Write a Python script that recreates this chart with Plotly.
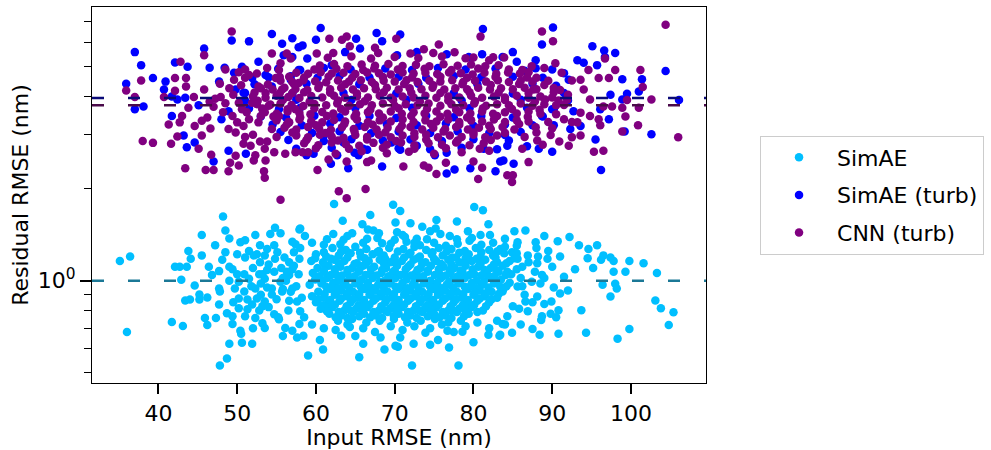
import plotly.graph_objects as go

# ---------------- data ----------------
series_names = ["SimAE", "SimAE (turb)", "CNN (turb)"]
series_colors = ["#00bfff", "#0000ff", "#800080"]
median_values = [1.0, 3.95, 3.74]
median_colors = ["#1b7896", "#0a0a78", "#4a0a4a"]
x_tick_vals = [40, 50, 60, 70, 80, 90, 100]
y_tick_vals = [1]
y_tick_text = ["10<sup>0</sup>"]
y_minor_vals = [0.5, 0.6, 0.7, 0.8, 0.9, 2, 3, 4, 5, 6, 7]

# SimAE: sparse points on the left
simae_left = [(35.1,1.16),(36.4,1.20),(36.0,0.68),(41.7,0.733),(43.1,0.711),(48.2,1.62),(45.5,1.41),
 (48.5,1.46),(49.0,1.375),(47.2,1.305),(43.8,1.25),(44.1,1.18),(42.1,1.11),(42.7,1.11),(43.6,1.11),
 (42.9,1.007),(43.4,0.862),(44.0,0.869),(45.2,0.902),(45.2,0.869),(46.2,0.882),(44.6,0.964),(45.5,1.21),
 (45.9,0.755),(46.2,0.717),(47.3,0.755),(49.0,0.623),(50.6,0.627),(51.9,0.623),(47.8,0.529),(48.7,0.557),
 (50.4,0.686),(50.5,0.671),(49.4,0.722),(48.7,0.783),(47.7,0.837),(47.8,0.922),(47.7,0.943),(46.8,1.045),
 (46.4,1.11),(47.7,1.075),(48.1,1.17),(49.0,1.11),(49.4,1.09),(48.5,1.24),(50.0,1.22),(50.4,1.335),
 (51.0,1.355),(51.0,1.19),(52.3,1.41),(52.1,1.21),(52.9,1.305),(52.9,1.15),(53.8,1.27),(53.5,1.21),
 (54.8,1.49),(54.2,1.42),(55.5,1.43),(54.7,1.305),(55.1,1.24),(50.9,1.05),(51.5,1.015),(50.2,0.993),
 (49.7,0.943),(50.9,0.922),(52.3,0.943),(52.5,0.875),(51.3,0.869),(50.2,0.875),(51.3,0.807),(50.2,0.813),
 (51.9,0.837),(53.2,0.825),(49.4,0.766),(51.0,0.766),(52.3,0.755),(53.2,0.727),(53.5,0.701),(54.7,0.777),
 (55.3,0.749),(56.1,0.701),(57.0,0.686),(57.6,0.652),(53.5,0.856),(54.4,0.902),(54.4,0.943),(55.7,0.922),
 (53.5,1.015),(54.7,1.07),(55.5,0.993),(56.6,1.045),(57.0,1.09),(56.6,1.15),(57.2,1.24),(57.9,1.47),
 (57.4,1.315),(57.9,1.18),(56.3,1.07),(57.0,0.943),(57.6,0.856),(58.0,0.795),(57.9,0.722),(53.2,1.05),
 (52.8,1.05),(53.8,1.085),
 (52.0,1.10),(53.0,0.98),(54.0,1.13),(55.0,0.87),(55.8,1.02),(56.5,0.80),(57.5,0.96),(58.0,1.28),(56.0,1.19),
 (57.8,1.05),(58.2,0.88),(55.2,0.76),(56.8,0.92),(54.0,0.82),(52.5,1.22),(57.0,1.34),(58.5,0.76),(53.0,0.90),
 (49.0,1.00),(50.0,1.05),(51.8,0.96),(52.8,0.80),(53.8,0.95),(54.8,1.18),(55.6,1.10),(56.6,0.86),(51.5,1.25),
 (49.5,0.85),(52.0,0.70),(55.8,0.66)]
# SimAE: edges of the central cloud
simae_mid_edges = [(62.3,1.78),(63.4,1.57),(66.9,1.64),(65.9,1.53),(69.8,1.77),(70.7,1.69),(70.1,1.55),
 (72.0,1.54),(73.5,1.50),(75.3,1.58),(77.9,1.56),(80.1,1.74),(81.2,1.70),(81.9,1.53),(75.2,1.48),
 (59.0,0.570),(60.9,0.596),(65.5,0.562),(72.2,0.529),(78.1,0.529),(68.7,0.596),(70.1,0.613),(70.4,0.609),
 (72.4,0.623),(74.5,0.618),(76.9,0.605),(66.0,0.623),(63.2,0.661),(64.3,0.706),(58.4,0.661),(81.9,0.666),
 (83.3,0.661),(83.7,0.722),(78.6,0.681),(76.7,0.686),(73.9,0.676),(68.2,0.652),(70.7,0.652),(58.6,1.40),
 (58.0,1.48),(61.4,1.365),(62.2,1.42),(63.1,1.315),(64.6,1.43),(66.6,1.47),(67.3,1.46),(68.4,1.325),
 (70.3,1.44),(71.3,1.39),(73.2,1.305),(74.1,1.365),(75.8,1.42),(77.9,1.365),(79.3,1.45),(80.9,1.41),
 (82.1,1.41),(83.4,1.27),
 (59.5,1.33),(61.0,1.31),(63.5,1.36),(66.0,1.33),(67.8,1.38),(69.5,1.32),(71.5,1.34),(72.8,1.37),
 (75.0,1.33),(76.5,1.30),(78.0,1.32),(79.5,1.35),(81.0,1.31),(82.5,1.33),(84.0,1.37),(85.5,1.30),
 (64.0,1.40),(68.0,1.43),(71.0,1.41),(74.5,1.45),(77.0,1.40),(79.8,1.38),(66.5,1.37),(72.5,1.33),(70.0,1.36),
 (59.5,0.72),(61.0,0.70),(62.5,0.69),(64.0,0.72),(66.0,0.70),(67.5,0.68),(69.5,0.71),(71.0,0.69),
 (72.5,0.71),(74.5,0.70),(76.0,0.72),(77.5,0.68),(79.0,0.71),(80.5,0.73),(82.0,0.70),(83.0,0.74),
 (60.5,0.64),(65.0,0.66),(75.5,0.64),(80.0,0.63)]
# SimAE: right side
simae_right = [(86.6,1.46),(89.0,1.40),(90.7,1.345),(92.2,1.39),(93.4,1.305),(95.7,1.305),(94.6,1.27),
 (94.5,1.185),(96.5,1.21),(97.4,1.19),(97.8,1.16),(96.2,1.17),(99.8,1.16),(101.6,1.14),(103.3,1.06),
 (99.3,1.07),(97.8,1.07),(95.2,1.10),(92.9,1.09),(96.4,0.971),(98.0,0.978),(98.2,0.943),(97.4,0.888),
 (92.0,0.929),(91.0,0.908),(93.7,0.801),(89.9,0.856),(90.8,0.801),(90.5,0.760),(88.6,0.744),(103.1,0.862),
 (103.8,0.813),(105.4,0.789),(104.8,0.717),(99.8,0.696),(98.3,0.647),(94.3,0.676),(90.8,0.671),(88.4,0.666),
 (87.5,0.696),(84.9,0.676),(83.4,0.666),
 (84.0,1.29),(84.9,1.24),(85.6,1.18),(86.9,1.21),(88.1,1.14),(86.2,1.11),(84.3,1.07),(88.7,1.045),
 (87.4,0.993),(85.6,0.957),(83.7,0.922),(88.1,0.888),(86.6,0.856),(85.0,0.825),(86.9,0.795),(84.3,0.766),
 (88.7,0.766),(89.4,1.18),(90.0,1.11),(87.9,1.335),(85.6,1.335),
 (85.5,1.23),(86.0,1.02),(86.5,0.90),(87.0,1.15),(87.8,1.07),(85.8,0.81),(88.5,0.98),(89.0,0.84),(86.2,0.96),
 (87.5,0.85),(89.5,1.25),(88.0,1.28),(85.2,1.45),(84.0,0.72),(86.0,0.72),
 (89.0,1.02),(90.2,0.95),(91.0,1.20),(89.8,0.78),(91.5,1.03),(88.2,1.20)]
# SimAE: dense core
simae_core = [(62.1,1.28),(63.8,1.26),(65.0,1.29),(66.4,1.27),(68.0,1.25),(69.3,1.28),(71.1,1.27),(72.5,1.29),
 (74.0,1.26),(75.6,1.28),(77.2,1.27),(78.9,1.25),(80.3,1.28),(82.0,1.26),
 (60.0,1.22),(61.3,1.20),(62.9,1.21),(64.4,1.23),(65.7,1.20),(67.2,1.22),(68.6,1.21),(70.0,1.19),(71.8,1.22),
 (73.2,1.20),(74.7,1.22),(76.1,1.21),(77.8,1.19),(79.4,1.22),(80.9,1.20),(82.5,1.21),(83.9,1.23),
 (59.4,1.16),(60.9,1.15),(62.3,1.17),(63.6,1.16),(65.2,1.14),(66.7,1.16),(68.1,1.17),(69.5,1.15),(70.9,1.16),
 (72.4,1.17),(73.9,1.15),(75.3,1.16),(76.8,1.17),(78.2,1.15),(79.8,1.16),(81.5,1.17),(83.0,1.15),(84.6,1.16),
 (57.2,1.12),(60.2,1.10),(61.6,1.12),(63.1,1.11),(64.6,1.10),(66.0,1.12),(67.4,1.11),(68.9,1.10),(70.3,1.12),
 (71.7,1.11),(73.3,1.10),(74.6,1.12),(76.2,1.11),(77.6,1.10),(79.0,1.12),(80.6,1.11),(82.2,1.10),(83.7,1.12),
 (59.6,1.06),(61.0,1.07),(62.5,1.05),(64.0,1.06),(65.4,1.07),(66.9,1.05),(68.3,1.06),(69.8,1.07),(71.2,1.05),
 (72.7,1.06),(74.2,1.07),(75.7,1.05),(77.1,1.06),(78.6,1.07),(80.1,1.05),(81.7,1.06),(83.2,1.07),(84.8,1.05),
 (56.2,1.00),(59.9,1.01),(61.4,1.02),(62.8,1.00),(64.3,1.02),(65.8,1.01),(67.2,1.02),(68.7,1.00),(70.1,1.02),
 (71.5,1.01),(73.0,1.02),(74.5,1.00),(75.9,1.02),(77.4,1.01),(78.9,1.02),(80.4,1.00),(81.9,1.02),(83.5,1.01),
 (59.2,0.97),(60.7,0.98),(62.1,0.96),(63.5,0.97),(65.0,0.98),(66.5,0.96),(67.9,0.97),(69.4,0.98),(70.8,0.96),
 (72.3,0.97),(73.7,0.98),(75.2,0.96),(76.6,0.97),(78.1,0.98),(79.6,0.96),(81.1,0.97),(82.6,0.98),(84.2,0.96),
 (55.8,0.94),(60.3,0.92),(61.8,0.94),(63.2,0.93),(64.7,0.92),(66.2,0.94),(67.6,0.93),(69.1,0.92),(70.5,0.94),
 (72.0,0.93),(73.5,0.92),(74.9,0.94),(76.4,0.93),(77.9,0.92),(79.3,0.94),(80.8,0.93),(82.3,0.92),(83.8,0.94),
 (59.5,0.89),(61.0,0.88),(62.4,0.90),(63.9,0.89),(65.3,0.88),(66.8,0.90),(68.2,0.89),(69.7,0.88),(71.2,0.90),
 (72.6,0.89),(74.1,0.88),(75.5,0.90),(77.0,0.89),(78.5,0.88),(80.0,0.90),(81.4,0.89),(83.0,0.88),
 (60.0,0.85),(61.5,0.84),(63.0,0.86),(64.4,0.85),(65.9,0.84),(67.3,0.86),(68.8,0.85),(70.2,0.84),(71.7,0.86),
 (73.2,0.85),(74.6,0.84),(76.1,0.86),(77.5,0.85),(79.0,0.84),(80.5,0.86),(82.0,0.85),
 (60.6,0.81),(62.1,0.82),(63.6,0.80),(65.1,0.81),(66.5,0.82),(68.0,0.80),(69.4,0.81),(70.9,0.82),(72.4,0.80),
 (73.8,0.81),(75.3,0.82),(76.8,0.80),(78.2,0.81),(79.7,0.82),(81.2,0.80),
 (61.7,0.78),(63.2,0.77),(64.7,0.79),(66.1,0.78),(67.6,0.77),(69.1,0.79),(70.5,0.78),(72.0,0.77),(73.5,0.79),
 (75.0,0.78),(76.4,0.77),(77.9,0.79),(79.4,0.78),
 (62.8,0.74),(64.6,0.75),(66.4,0.73),(68.1,0.74),(69.9,0.75),(71.6,0.73),(73.3,0.74),(75.1,0.75),(76.8,0.73),
 (78.4,0.74)]
simae_core_fill = [(61.0,1.24),(63.2,1.245),(65.6,1.235),(67.8,1.24),(70.4,1.245),(72.0,1.235),(74.8,1.24),
 (76.6,1.245),(78.2,1.235),(81.0,1.24),(83.0,1.245),
 (59.9,1.185),(61.9,1.18),(64.0,1.19),(66.2,1.185),(68.8,1.18),(71.2,1.19),(72.9,1.185),(75.0,1.18),(77.3,1.19),
 (79.0,1.185),(80.4,1.18),(82.8,1.19),(85.2,1.185),
 (61.1,1.13),(62.9,1.14),(64.9,1.135),(66.3,1.13),(68.6,1.14),(70.2,1.135),(72.0,1.13),(73.5,1.14),
 (75.9,1.135),(77.2,1.13),(78.9,1.14),(80.9,1.135),(82.6,1.13),(84.2,1.14),
 (61.0,1.08),(62.4,1.09),(64.0,1.085),(65.5,1.08),(67.0,1.09),(68.4,1.085),(70.0,1.08),(71.4,1.09),
 (72.9,1.085),(74.2,1.08),(75.6,1.09),(77.0,1.085),(78.4,1.08),(79.9,1.09),(81.4,1.085),(83.0,1.08),(85.5,1.09),
 (60.4,1.035),(61.9,1.045),(63.3,1.04),(64.9,1.035),(66.3,1.045),(67.7,1.04),(69.2,1.035),(70.7,1.045),
 (72.1,1.04),(73.6,1.035),(75.1,1.045),(76.5,1.04),(78.0,1.035),(79.5,1.045),(81.0,1.04),(82.6,1.035),(84.1,1.045),
 (60.8,0.995),(62.2,0.985),(63.7,0.99),(65.1,0.995),(66.6,0.985),(68.1,0.99),(69.5,0.995),(71.0,0.985),
 (72.5,0.99),(73.9,0.995),(75.4,0.985),(76.9,0.99),(78.3,0.995),(79.8,0.985),(81.3,0.99),(82.8,0.995),(84.6,0.985),
 (61.3,0.955),(62.8,0.945),(64.2,0.95),(65.7,0.955),(67.2,0.945),(68.6,0.95),(70.1,0.955),(71.6,0.945),
 (73.0,0.95),(74.5,0.955),(76.0,0.945),(77.4,0.95),(78.9,0.955),(80.4,0.945),(81.9,0.95),(83.4,0.955),
 (61.1,0.905),(62.6,0.915),(64.0,0.91),(65.5,0.905),(67.0,0.915),(68.4,0.91),(69.9,0.905),(71.4,0.915),
 (72.8,0.91),(74.3,0.905),(75.8,0.915),(77.2,0.91),(78.7,0.905),(80.2,0.915),(81.6,0.91),(83.2,0.905),
 (60.3,0.87),(61.8,0.865),(63.2,0.875),(64.7,0.87),(66.1,0.865),(67.6,0.875),(69.0,0.87),(70.5,0.865),(72.0,0.875),
 (73.4,0.87),(74.9,0.865),(76.4,0.875),(77.8,0.87),(79.3,0.865),(80.8,0.875),(82.3,0.87),
 (60.9,0.83),(62.4,0.835),(63.9,0.825),(65.4,0.83),(66.8,0.835),(68.3,0.825),(69.8,0.83),(71.2,0.835),(72.7,0.825),
 (74.1,0.83),(75.6,0.835),(77.1,0.825),(78.6,0.83),(80.1,0.835),(81.6,0.825),
 (61.4,0.795),(62.9,0.79),(64.4,0.80),(65.9,0.795),(67.3,0.79),(68.8,0.80),(70.2,0.795),(71.7,0.79),(73.1,0.80),
 (74.6,0.795),(76.1,0.79),(77.5,0.80),(79.0,0.795),(80.5,0.79),
 (62.5,0.76),(64.0,0.755),(65.5,0.765),(66.9,0.76),(68.4,0.755),(69.9,0.765),(71.3,0.76),(72.8,0.755),(74.2,0.765),
 (75.7,0.76),(77.2,0.755),(78.8,0.765)]

# SimAE (turb)
simae_turb_outer = [(37.0,5.58),(37.8,5.06),(39.3,4.59),(35.9,4.40),(37.0,3.63),(38.1,3.71),(40.9,4.47),
 (40.7,4.21),(42.1,5.16),(43.7,5.00),(45.8,5.73),(46.5,4.96),(47.7,4.47),(48.4,4.96),(49.3,6.09),(51.5,6.05),
 (54.4,6.40),(55.7,5.94),(57.0,6.19),(52.7,5.19),(49.6,4.78),(50.6,5.00),(41.7,3.45),(43.2,2.98),(43.6,2.73),
 (44.6,2.83),(47.0,2.45),(48.0,3.37),(45.1,3.74),(43.4,3.96),(42.4,3.91),(41.7,4.00),(48.9,2.66),(51.1,2.60),
 (48.9,3.58),(49.8,4.21),(51.0,4.10),(51.9,4.59),(53.6,4.70),(54.4,4.31),(57.0,5.38),(56.8,4.53),(57.8,4.88),
 (55.3,3.63),(57.8,5.79),(55.9,5.45),
 (60.6,6.69),(58.3,5.87),(60.0,6.12),(65.1,6.17),(67.7,6.44),(68.4,6.06),(70.7,6.37),(70.3,5.45),(65.6,5.73),
 (63.7,5.58),(72.8,5.58),(76.6,5.49),(79.4,5.38),(81.2,6.64),(81.1,5.49),(83.7,5.38),(58.9,5.32),(62.0,5.06),
 (58.8,2.57),(59.7,2.60),(61.9,2.41),(62.7,2.57),(64.1,2.33),(64.9,2.62),(65.4,2.57),(68.4,2.36),(69.6,2.83),
 (70.7,2.68),(75.1,2.57),(76.6,2.62),(77.6,2.31),(76.6,2.24),(79.6,2.33),(82.8,2.28),(83.4,2.45),(84.3,2.76),
 (61.0,2.98),(63.5,2.83),(66.0,2.70),(72.8,2.76),(81.3,2.70),(84.0,2.99),
 (90.1,6.72),(88.7,5.91),(85.0,5.58),(85.5,5.19),(87.9,5.25),(95.1,5.83),(96.6,5.65),(98.0,5.54),(96.7,5.38),
 (93.2,5.25),(94.0,5.15),(95.7,5.06),(98.9,4.55),(101.4,4.55),(104.4,4.84),(99.5,4.08),(101.0,4.15),(98.9,3.91),
 (106.1,3.89),(102.6,3.01),(99.2,3.07),(97.2,3.37),(95.5,2.89),(96.2,2.30),(90.0,2.64),(88.3,2.70),(86.8,2.75),
 (85.1,2.41),(83.8,2.47),(92.3,3.13),(93.6,3.20),(90.2,3.22),(92.1,4.53),(91.5,4.76),(90.0,4.90),(87.9,4.94),
 (90.2,3.63),(88.7,3.45),(92.7,3.58),(96.1,3.63),(97.4,4.05)]
simae_turb_core = [(55.2,4.92),(58.0,4.88),(61.0,4.95),(64.4,4.90),(68.8,4.93),(72.2,4.88),(75.5,4.95),
 (79.0,4.90),(82.8,4.93),(86.5,4.85),
 (54.0,4.62),(56.8,4.65),(60.2,4.60),(63.0,4.66),(66.8,4.61),(70.5,4.64),(74.0,4.60),(77.5,4.66),(81.0,4.62),
 (85.0,4.64),(88.8,4.60),
 (52.2,4.38),(58.8,4.40),(65.5,4.38),(73.0,4.40),(80.5,4.38),(87.5,4.40),(90.5,4.33),
 (50.8,4.11),(57.0,4.09),(63.5,4.10),(70.2,4.09),(77.5,4.10),(85.0,4.09),(91.5,4.10),
 (51.0,3.88),(57.5,3.90),(64.5,3.89),(71.5,3.90),(78.5,3.88),(86.0,3.90),(92.0,3.88),
 (51.5,3.65),(58.0,3.67),(65.0,3.66),(72.2,3.67),(79.5,3.66),(86.8,3.67),(90.0,3.63),
 (53.0,3.44),(56.2,3.41),(59.8,3.46),(63.0,3.42),(66.8,3.45),(70.2,3.40),(74.0,3.46),(77.5,3.42),(81.0,3.45),
 (85.0,3.41),(88.8,3.44),
 (54.5,3.24),(58.2,3.22),(61.8,3.26),(65.5,3.21),(69.0,3.25),(72.8,3.22),(76.5,3.26),(80.0,3.21),(84.0,3.24),
 (87.5,3.22),
 (55.5,3.06),(59.5,3.04),(63.0,3.08),(67.0,3.03),(70.5,3.07),(74.5,3.04),(78.0,3.08),(82.0,3.03),(86.0,3.06),
 (56.5,2.88),(61.0,2.86),(64.5,2.90),(68.5,2.87),(72.0,2.89),(76.0,2.86),(80.0,2.90),(84.5,2.87),
 (57.5,2.70),(62.0,2.72),(66.5,2.68),(70.5,2.71),(74.5,2.69),(78.5,2.72),(83.0,2.69)]

# CNN (turb)
cnn_turb_outer = [(49.3,6.52),(45.8,5.45),(42.8,5.19),(37.8,4.51),(35.9,4.18),(37.0,3.98),(42.1,4.59),
 (43.5,4.59),(43.5,4.31),(40.7,3.98),(42.1,4.17),(44.5,3.98),(45.8,4.21),(47.2,3.93),(47.9,3.98),(48.5,4.90),
 (49.6,4.53),(51.0,4.90),(51.5,4.70),(54.4,5.52),(55.5,5.13),(56.3,5.52),(56.8,5.32),(41.3,3.24),(42.7,3.29),
 (43.8,3.67),(43.0,3.45),(44.6,3.20),(46.2,3.41),(45.5,3.33),(46.6,3.14),(42.4,2.96),(41.6,2.80),(38.0,2.86),
 (39.3,2.82),(45.5,2.98),(45.1,2.70),(46.7,2.58),(43.4,2.33),(46.0,2.30),(47.0,2.30),(48.9,2.28),(49.1,2.43),
 (50.2,2.38),(49.8,2.56),(52.1,2.47),(52.3,2.57),(53.4,2.28),(53.5,2.17),(53.6,2.47),(50.8,2.80),(51.7,2.76),
 (52.9,2.85),(53.8,2.85),(54.7,2.63),(56.1,2.60),(57.4,2.63),(48.9,3.13),(50.0,3.29),(49.4,3.45),(50.6,3.63),
 (51.9,3.81),(53.2,3.63),(54.2,3.76),(55.3,3.45),(56.6,3.29),(57.4,3.63),(52.7,3.29),(51.5,3.37),(54.4,3.13),
 (57.0,3.05),(50.2,3.81),(52.7,4.31),(53.6,4.10),(54.9,4.59),(55.7,4.21),(57.0,4.10),(57.8,4.42),(55.3,4.88),
 (56.6,4.64),
 (48.5,3.80),(49.5,4.05),(50.5,4.35),(51.2,3.55),(49.8,3.05),(50.8,3.20),(52.0,3.00),(53.0,3.45),(51.0,4.60),
 (52.5,4.75),(53.8,4.95),(49.0,4.25),(50.2,4.80),(48.2,3.55),(47.8,4.40),(53.5,2.70),(55.0,2.95),(51.0,2.95),
 (47.0,3.70),(46.5,3.85),
 (61.7,6.17),(63.9,6.27),(63.3,6.12),(64.3,5.83),(67.5,5.77),(70.2,6.17),(75.6,5.91),(77.6,5.57),(73.7,5.70),
 (74.9,5.54),(80.9,6.27),(80.0,5.36),(82.0,5.25),(60.1,5.52),(62.2,5.54),(67.9,5.54),(72.0,5.52),
 (62.9,1.96),(63.9,1.86),(66.3,1.995),(55.5,1.84),(60.2,2.30),(61.6,2.49),(63.9,2.45),(66.5,2.44),(67.0,2.47),
 (71.1,2.36),(73.7,2.38),(74.3,2.34),(75.3,2.23),(76.5,2.43),(80.0,2.45),(81.1,2.34),(80.6,2.15),(84.3,2.21),
 (58.3,2.63),
 (104.4,6.85),(88.7,6.52),(90.1,6.06),(83.9,5.36),(90.4,5.13),(96.7,5.32),(98.0,4.88),(101.2,4.88),(94.6,4.88),
 (95.9,4.59),(97.2,4.59),(93.6,4.53),(92.5,4.51),(91.2,4.78),(87.4,5.02),(86.2,4.88),(101.5,4.29),(102.6,3.91),
 (99.5,3.89),(101.0,3.67),(98.9,3.67),(99.3,3.44),(100.9,3.22),(98.9,3.07),(106.0,2.94),(97.6,3.71),(96.5,3.71),
 (96.1,3.22),(95.9,3.37),(94.8,3.45),(93.6,3.54),(93.2,3.29),(93.6,2.98),(92.5,2.94),(92.1,2.76),(90.9,2.85),
 (89.8,2.99),(87.9,3.17),(88.1,2.87),(87.0,2.44),(85.0,2.21),(84.9,2.10),(95.3,2.64),(96.5,2.66),(91.5,3.37),
 (89.1,3.91),(87.6,4.21),(90.2,4.26),(91.9,3.91),(94.0,4.21),(94.8,3.91),
 (88.0,4.60),(89.5,4.50),(91.0,4.20),(92.0,4.05),(89.5,3.30),(90.5,3.50),(91.5,3.75),(88.0,3.05),(86.5,2.95),
 (88.8,2.78),(90.0,3.15),(92.5,3.30),(86.2,2.70),(87.0,4.80),(89.0,4.95)]
cnn_turb_core = [(61.5,5.35),(64.5,5.40),(67.0,5.32),(70.0,5.38),(73.0,5.34),(76.0,5.40),(79.0,5.33),(82.5,5.37),
 (60.5,5.05),(62.3,5.10),(64.0,5.02),(65.8,5.08),(67.5,5.04),(69.2,5.10),(71.0,5.03),(72.7,5.07),(74.4,5.02),
 (76.2,5.09),(78.0,5.04),(79.7,5.08),(81.5,5.02),(83.2,5.06),
 (57.5,4.78),(59.0,4.74),(60.6,4.80),(62.0,4.75),(63.5,4.78),(65.0,4.73),(66.5,4.79),(68.0,4.76),(69.5,4.72),
 (71.0,4.79),(72.4,4.75),(73.9,4.78),(75.4,4.73),(76.9,4.79),(78.4,4.76),(79.9,4.72),(81.4,4.78),(82.9,4.74),
 (84.4,4.79),(85.9,4.75),
 (55.5,4.50),(57.0,4.46),(58.4,4.52),(59.9,4.48),(61.3,4.45),(62.8,4.51),(64.2,4.47),(65.7,4.52),(67.1,4.46),
 (68.6,4.50),(70.0,4.47),(71.5,4.52),(72.9,4.46),(74.4,4.50),(75.8,4.47),(77.3,4.52),(78.7,4.46),(80.2,4.50),
 (81.6,4.47),(83.1,4.52),(84.5,4.46),(86.0,4.50),(87.5,4.47),
 (53.0,4.25),(54.5,4.21),(56.0,4.27),(57.4,4.23),(58.9,4.20),(60.3,4.26),(61.8,4.22),(63.2,4.27),(64.7,4.21),
 (66.1,4.25),(67.6,4.22),(69.0,4.27),(70.5,4.21),(71.9,4.25),(73.4,4.22),(74.8,4.27),(76.3,4.21),(77.7,4.25),
 (79.2,4.22),(80.6,4.27),(82.1,4.21),(83.5,4.25),(85.0,4.22),(86.5,4.27),(88.0,4.22),
 (52.0,4.00),(53.6,3.96),(55.0,4.02),(56.5,3.98),(57.9,3.95),(59.4,4.01),(60.8,3.97),(62.3,4.02),(63.7,3.96),
 (65.2,4.00),(66.6,3.97),(68.1,4.02),(69.5,3.96),(71.0,4.00),(72.4,3.97),(73.9,4.02),(75.3,3.96),(76.8,4.00),
 (78.2,3.97),(79.7,4.02),(81.1,3.96),(82.6,4.00),(84.0,3.97),(85.5,4.02),(87.0,3.96),(88.5,4.00),(90.0,3.97),
 (52.5,3.77),(54.0,3.73),(55.5,3.79),(56.9,3.75),(58.4,3.72),(59.8,3.78),(61.3,3.74),(62.7,3.79),(64.2,3.73),
 (65.6,3.77),(67.1,3.74),(68.5,3.79),(70.0,3.73),(71.4,3.77),(72.9,3.74),(74.3,3.79),(75.8,3.73),(77.2,3.77),
 (78.7,3.74),(80.1,3.79),(81.6,3.73),(83.0,3.77),(84.5,3.74),(86.0,3.79),(87.5,3.73),(89.0,3.77),(90.5,3.74),
 (53.5,3.55),(55.0,3.51),(56.4,3.57),(57.9,3.53),(59.3,3.50),(60.8,3.56),(62.2,3.52),(63.7,3.57),(65.1,3.51),
 (66.6,3.55),(68.0,3.52),(69.5,3.57),(70.9,3.51),(72.4,3.55),(73.8,3.52),(75.3,3.57),(76.7,3.51),(78.2,3.55),
 (79.6,3.52),(81.1,3.57),(82.5,3.51),(84.0,3.55),(85.5,3.52),(87.0,3.57),(88.5,3.51),
 (55.0,3.34),(56.5,3.30),(57.9,3.36),(59.4,3.32),(60.8,3.29),(62.3,3.35),(63.7,3.31),(65.2,3.36),(66.6,3.30),
 (68.1,3.34),(69.5,3.31),(71.0,3.36),(72.4,3.30),(73.9,3.34),(75.3,3.31),(76.8,3.36),(78.2,3.30),(79.7,3.34),
 (81.1,3.31),(82.6,3.36),(84.0,3.30),(85.5,3.34),(87.0,3.31),
 (56.0,3.16),(57.5,3.12),(59.0,3.18),(60.4,3.14),(61.9,3.11),(63.3,3.17),(64.8,3.13),(66.2,3.18),(67.7,3.12),
 (69.1,3.16),(70.6,3.13),(72.0,3.18),(73.5,3.12),(74.9,3.16),(76.4,3.13),(77.8,3.18),(79.3,3.12),(80.7,3.16),
 (82.2,3.13),(83.7,3.18),(85.2,3.12),
 (57.5,2.98),(59.0,2.94),(60.5,3.00),(62.0,2.96),(63.5,2.93),(65.0,2.99),(66.5,2.95),(68.0,3.00),(69.5,2.94),
 (71.0,2.98),(72.5,2.95),(74.0,3.00),(75.5,2.94),(77.0,2.98),(78.5,2.95),(80.0,3.00),(81.5,2.94),(83.0,2.98),
 (58.5,2.81),(60.3,2.77),(62.0,2.83),(63.8,2.79),(65.5,2.76),(67.3,2.82),(69.0,2.78),(70.8,2.83),(72.5,2.77),
 (74.3,2.81),(76.0,2.78),(77.8,2.83),(79.5,2.77),(81.3,2.81),
 (59.0,2.63),(62.5,2.60),(65.8,2.65),(69.0,2.61),(71.8,2.64),(75.0,2.60),(78.5,2.63),(82.0,2.66)]
cnn_turb_core_fill = [(59.8,4.90),(62.6,4.92),(66.0,4.88),(67.4,4.93),(70.4,4.90),(73.8,4.92),(77.2,4.88),
 (80.6,4.93),(84.5,4.90),
 (55.4,4.63),(58.5,4.61),(61.6,4.64),(64.6,4.60),(68.5,4.63),(72.2,4.61),(75.8,4.64),(79.2,4.60),(82.8,4.63),
 (86.8,4.61),
 (53.9,4.37),(57.2,4.39),(60.4,4.35),(63.7,4.38),(67.5,4.36),(71.2,4.39),(74.9,4.35),(78.6,4.38),(82.2,4.36),
 (85.8,4.39),(89.0,4.36),
 (52.2,4.12),(55.4,4.10),(58.5,4.13),(61.8,4.11),(65.2,4.09),(68.6,4.13),(72.1,4.11),(75.8,4.10),(79.5,4.13),
 (83.2,4.11),(87.0,4.10),(90.2,4.13),
 (52.6,3.87),(55.8,3.89),(59.2,3.85),(62.8,3.88),(66.2,3.86),(69.8,3.89),(73.2,3.85),(76.8,3.88),(80.2,3.86),
 (84.0,3.89),(87.8,3.85),(90.8,3.88),
 (53.2,3.65),(56.4,3.63),(59.8,3.66),(63.2,3.64),(66.9,3.62),(70.5,3.66),(74.1,3.64),(77.8,3.62),(81.2,3.66),
 (84.9,3.64),(88.4,3.62),
 (54.6,3.44),(58.0,3.42),(61.4,3.45),(64.9,3.43),(68.5,3.41),(72.1,3.45),(75.8,3.43),(79.2,3.41),(83.0,3.45),
 (86.9,3.43),
 (56.3,3.24),(60.0,3.22),(63.6,3.25),(67.2,3.23),(70.9,3.21),(74.6,3.25),(78.2,3.23),(82.0,3.21),(85.8,3.25),
 (57.4,3.06),(61.2,3.04),(64.9,3.07),(68.8,3.05),(72.5,3.03),(76.2,3.07),(80.0,3.05),(84.0,3.04),
 (58.8,2.88),(62.8,2.87),(66.5,2.89),(70.2,2.86),(74.0,2.89),(78.0,2.87),(82.2,2.88),
 (60.0,2.71),(64.2,2.70),(68.5,2.72),(72.5,2.70),(76.5,2.71),(80.8,2.70)]

simae_pts = simae_left + simae_mid_edges + simae_right + simae_core + simae_core_fill
simae_turb_pts = simae_turb_outer + simae_turb_core
cnn_turb_pts = cnn_turb_outer + cnn_turb_core + cnn_turb_core_fill
all_series = [simae_pts, simae_turb_pts, cnn_turb_pts]

FONT = "DejaVu Sans"
fig = go.Figure()
for name, color, pts in zip(series_names, series_colors, all_series):
    fig.add_trace(go.Scatter(
        x=[p[0] for p in pts], y=[p[1] for p in pts], mode="markers", name=name,
        legendgroup=name,
        marker=dict(color=color, size=8.5, line=dict(width=0)),
    ))

for val, col in zip(median_values, median_colors):
    fig.add_shape(type="line", xref="paper", x0=0, x1=1, yref="y", y0=val, y1=val,
                  line=dict(color=col, width=2.5, dash="12px,24px"), layer="above")

fig.update_layout(
    width=991, height=450,
    margin=dict(l=92, r=285, t=6, b=62),
    paper_bgcolor="white", plot_bgcolor="white",
    font=dict(family=FONT, size=22, color="black"),
    showlegend=True,
    legend=dict(x=1.088, xanchor="left", y=0.5, yanchor="middle",
                bordercolor="#cccccc", borderwidth=1, bgcolor="white",
                itemwidth=66, tracegroupgap=6,
                font=dict(family=FONT, size=22, color="black")),
    xaxis=dict(range=[31.56, 109.53], tickmode="array", tickvals=x_tick_vals,
               ticks="outside", ticklen=10, tickwidth=1.5, tickcolor="black",
               showline=True, linecolor="black", linewidth=1.2, mirror=True,
               showgrid=False, zeroline=False,
               title=dict(text="Input RMSE (nm)", standoff=3, font=dict(size=22)),
               tickfont=dict(size=22)),
    yaxis=dict(type="log", range=[-0.334, 0.894], tickmode="array",
               tickvals=y_tick_vals, ticktext=y_tick_text,
               ticks="outside", ticklen=11, tickwidth=1.5, tickcolor="black",
               minor=dict(tickmode="array", tickvals=y_minor_vals, ticks="outside",
                          ticklen=7, tickwidth=1.2, tickcolor="black", showgrid=False),
               showline=True, linecolor="black", linewidth=1.2, mirror=True,
               showgrid=False, zeroline=False,
               title=dict(text="Residual RMSE (nm)", standoff=3, font=dict(size=22)),
               tickfont=dict(size=22)),
)

fig.write_html("out.html", config={"displayModeBar": False},
               post_script="document.body.style.margin='0px';")
